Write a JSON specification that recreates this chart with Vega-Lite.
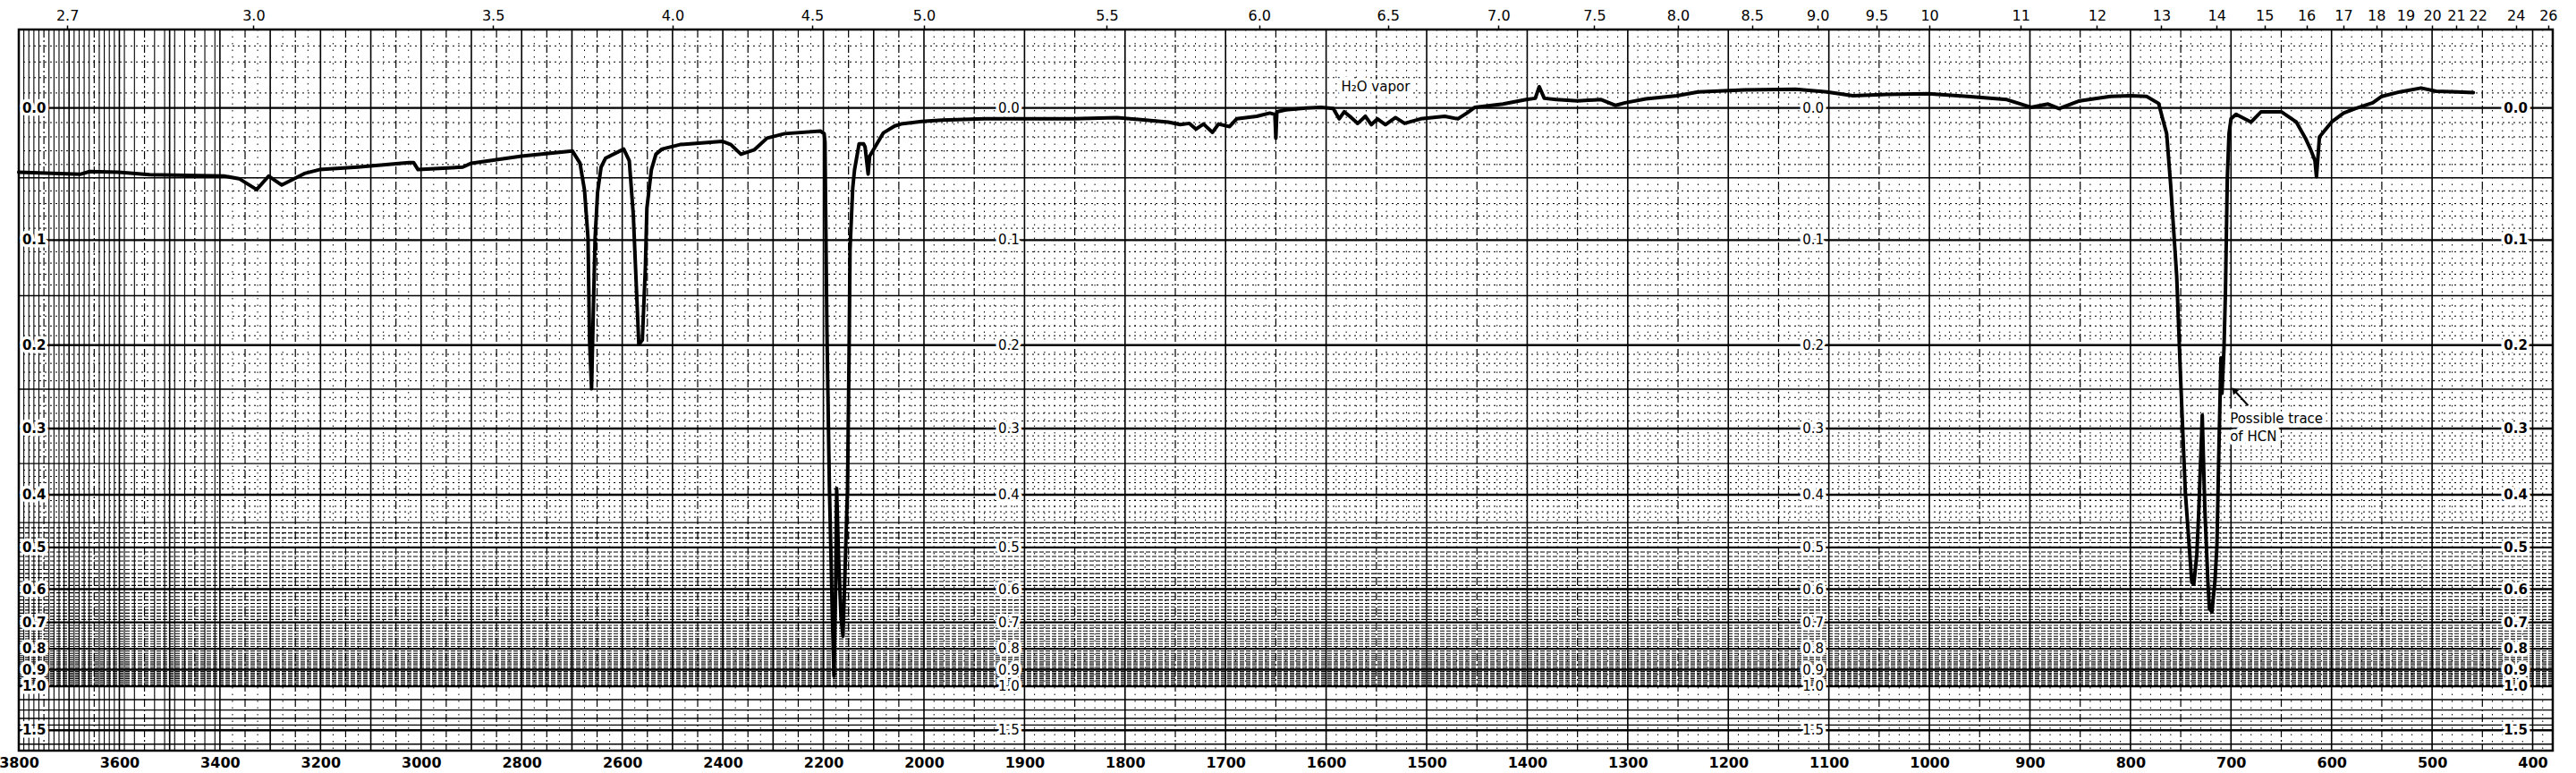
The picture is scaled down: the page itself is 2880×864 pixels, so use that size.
{
  "$schema": "https://vega.github.io/schema/vega-lite/v6.json",
  "width": 2833,
  "height": 806,
  "autosize": {"type": "none"},
  "padding": {"left": 21, "top": 33, "right": 26, "bottom": 25},
  "background": "white",
  "config": {"view": {"stroke": "black", "strokeWidth": 2.5}},
  "resolve": {"axis": {"x": "independent"}},
  "datasets": {
    "trace": [
      {"wn":3800,"T":0.900},{"wn":3677,"T":0.897},{"wn":3659,"T":0.901},{"wn":3601,"T":0.900},{"wn":3540,"T":0.896},
      {"wn":3392,"T":0.894},{"wn":3362,"T":0.890},{"wn":3327,"T":0.873},{"wn":3303,"T":0.894},{"wn":3277,"T":0.880},
      {"wn":3232,"T":0.898},{"wn":3202,"T":0.904},{"wn":3126,"T":0.908},{"wn":3024,"T":0.915},{"wn":3015,"T":0.915},
      {"wn":3006,"T":0.904},{"wn":2917,"T":0.908},{"wn":2900,"T":0.914},{"wn":2800,"T":0.925},{"wn":2699,"T":0.933},
      {"wn":2684,"T":0.914},{"wn":2675,"T":0.872},{"wn":2668,"T":0.797},{"wn":2665,"T":0.639},{"wn":2661,"T":0.563},
      {"wn":2658,"T":0.667},{"wn":2654,"T":0.797},{"wn":2649,"T":0.869},{"wn":2642,"T":0.908},{"wn":2633,"T":0.922},
      {"wn":2597,"T":0.936},{"wn":2586,"T":0.918},{"wn":2578,"T":0.834},{"wn":2572,"T":0.723},{"wn":2567,"T":0.632},
      {"wn":2560,"T":0.639},{"wn":2554,"T":0.751},{"wn":2551,"T":0.844},{"wn":2542,"T":0.904},{"wn":2533,"T":0.928},
      {"wn":2521,"T":0.936},{"wn":2485,"T":0.943},{"wn":2401,"T":0.948},{"wn":2384,"T":0.943},{"wn":2364,"T":0.928},
      {"wn":2337,"T":0.935},{"wn":2312,"T":0.953},{"wn":2277,"T":0.960},{"wn":2206,"T":0.964},{"wn":2198.5,"T":0.960},
      {"wn":2196.8,"T":0.947},{"wn":2195,"T":0.806},{"wn":2193,"T":0.656},{"wn":2188,"T":0.408},{"wn":2182.5,"T":0.221},
      {"wn":2179,"T":0.116},{"wn":2175.4,"T":0.263},{"wn":2173.6,"T":0.408},{"wn":2170,"T":0.305},{"wn":2165,"T":0.208},
      {"wn":2161,"T":0.178},{"wn":2157.6,"T":0.263},{"wn":2152,"T":0.408},{"wn":2149,"T":0.611},{"wn":2147,"T":0.780},
      {"wn":2141.6,"T":0.876},{"wn":2138,"T":0.904},{"wn":2129,"T":0.944},{"wn":2120,"T":0.944},{"wn":2117,"T":0.939},
      {"wn":2111,"T":0.897},{"wn":2108,"T":0.925},{"wn":2099,"T":0.937},{"wn":2081,"T":0.961},{"wn":2058,"T":0.972},
      {"wn":2045.5,"T":0.975},{"wn":2004.6,"T":0.979},{"wn":1982,"T":0.981},{"wn":1940,"T":0.983},{"wn":1903,"T":0.983},
      {"wn":1851,"T":0.983},{"wn":1808,"T":0.985},{"wn":1757,"T":0.978},{"wn":1745,"T":0.974},{"wn":1736,"T":0.976},
      {"wn":1729.5,"T":0.967},{"wn":1722,"T":0.975},{"wn":1713,"T":0.962},{"wn":1707,"T":0.975},{"wn":1696,"T":0.971},
      {"wn":1689,"T":0.983},{"wn":1669,"T":0.987},{"wn":1656,"T":0.992},{"wn":1651,"T":0.990},{"wn":1650,"T":0.953},
      {"wn":1649,"T":0.994},{"wn":1640,"T":0.997},{"wn":1620,"T":1.000},{"wn":1605,"T":1.001},{"wn":1593,"T":0.999},
      {"wn":1587,"T":0.983},{"wn":1582,"T":0.994},{"wn":1575,"T":0.985},{"wn":1568.5,"T":0.976},{"wn":1561,"T":0.987},
      {"wn":1555,"T":0.974},{"wn":1549,"T":0.983},{"wn":1541,"T":0.974},{"wn":1531,"T":0.985},{"wn":1522,"T":0.976},
      {"wn":1506,"T":0.983},{"wn":1482,"T":0.987},{"wn":1469,"T":0.983},{"wn":1459,"T":0.993},{"wn":1452,"T":1.001},
      {"wn":1424,"T":1.006},{"wn":1401,"T":1.013},{"wn":1392,"T":1.015},{"wn":1388,"T":1.033},{"wn":1383,"T":1.015},
      {"wn":1371,"T":1.013},{"wn":1350,"T":1.011},{"wn":1326.5,"T":1.013},{"wn":1312,"T":1.004},{"wn":1302.5,"T":1.008},
      {"wn":1282,"T":1.014},{"wn":1251,"T":1.019},{"wn":1230,"T":1.025},{"wn":1184,"T":1.028},{"wn":1133,"T":1.029},
      {"wn":1102,"T":1.025},{"wn":1076,"T":1.019},{"wn":1042,"T":1.021},{"wn":1001,"T":1.022},{"wn":962,"T":1.018},
      {"wn":923,"T":1.013},{"wn":899,"T":1.001},{"wn":882,"T":1.006},{"wn":871,"T":0.999},{"wn":850.5,"T":1.011},
      {"wn":820,"T":1.018},{"wn":800,"T":1.019},{"wn":784,"T":1.018},{"wn":772,"T":1.007},{"wn":768,"T":0.983},
      {"wn":764,"T":0.960},{"wn":760,"T":0.880},{"wn":754,"T":0.738},{"wn":750,"T":0.574},{"wn":745.5,"T":0.404},
      {"wn":739,"T":0.262},{"wn":737,"T":0.259},{"wn":734,"T":0.305},{"wn":732,"T":0.375},{"wn":728.6,"T":0.522},
      {"wn":726,"T":0.375},{"wn":723,"T":0.263},{"wn":721.5,"T":0.221},{"wn":719,"T":0.216},{"wn":716,"T":0.263},
      {"wn":714,"T":0.318},{"wn":712,"T":0.472},{"wn":710,"T":0.611},{"wn":709,"T":0.556},{"wn":707,"T":0.625},
      {"wn":705.5,"T":0.716},{"wn":703.7,"T":0.890},{"wn":702,"T":0.960},{"wn":700,"T":0.983},{"wn":695,"T":0.990},
      {"wn":680,"T":0.978},{"wn":670,"T":0.994},{"wn":650,"T":0.994},{"wn":635,"T":0.978},{"wn":626,"T":0.953},
      {"wn":621,"T":0.936},{"wn":616.5,"T":0.918},{"wn":615,"T":0.893},{"wn":612,"T":0.955},{"wn":600,"T":0.978},
      {"wn":588,"T":0.992},{"wn":576.5,"T":0.999},{"wn":559,"T":1.008},{"wn":550,"T":1.018},{"wn":532,"T":1.025},
      {"wn":511,"T":1.031},{"wn":496,"T":1.026},{"wn":475,"T":1.025},{"wn":459,"T":1.024}
    ],
    "vmajor": [
      {"wn":3700},{"wn":3600},{"wn":3500},{"wn":3400},{"wn":3300},{"wn":3200},{"wn":3100},{"wn":3000},{"wn":2900},
      {"wn":2800},{"wn":2700},{"wn":2600},{"wn":2500},{"wn":2400},{"wn":2300},{"wn":2200},{"wn":2100},{"wn":2000},
      {"wn":1900},{"wn":1800},{"wn":1700},{"wn":1600},{"wn":1500},{"wn":1400},{"wn":1300},{"wn":1200},{"wn":1100},
      {"wn":1000},{"wn":900},{"wn":800},{"wn":700},{"wn":600},{"wn":500},{"wn":400}
    ],
    "vhalf": [
      {"wn":3750},{"wn":3650},{"wn":3550},{"wn":3450},{"wn":3350},{"wn":3250},{"wn":3150},{"wn":3050},{"wn":2950},
      {"wn":2850},{"wn":2750},{"wn":2650},{"wn":2550},{"wn":2450},{"wn":2350},{"wn":2250},{"wn":2150},{"wn":2050},
      {"wn":1950},{"wn":1850},{"wn":1750},{"wn":1650},{"wn":1550},{"wn":1450},{"wn":1350},{"wn":1250},{"wn":1150},
      {"wn":1050},{"wn":950},{"wn":850},{"wn":750},{"wn":650},{"wn":550},{"wn":450}
    ],
    "vdense": [
      {"wn":3790},{"wn":3780},{"wn":3770},{"wn":3760},{"wn":3740},{"wn":3730},{"wn":3720},{"wn":3710},
      {"wn":3690},{"wn":3680},{"wn":3670},{"wn":3660},{"wn":3640},{"wn":3630},{"wn":3620},{"wn":3610},
      {"wn":3590},{"wn":3570},{"wn":3530},{"wn":3510},{"wn":3490},{"wn":3470},{"wn":3430},{"wn":3410}
    ],
    "vfine": [
      {"wn":3375},{"wn":3325},{"wn":3275},{"wn":3225},{"wn":3175},{"wn":3125},{"wn":3075},{"wn":3025},{"wn":2975},
      {"wn":2925},{"wn":2875},{"wn":2825},{"wn":2775},{"wn":2725},{"wn":2675},{"wn":2625},{"wn":2575},{"wn":2525},
      {"wn":2475},{"wn":2425},{"wn":2375},{"wn":2325},{"wn":2275},{"wn":2225},{"wn":2175},{"wn":2125},{"wn":2075},{"wn":2025},
      {"wn":1990},{"wn":1980},{"wn":1970},{"wn":1960},{"wn":1940},{"wn":1930},{"wn":1920},{"wn":1910},
      {"wn":1890},{"wn":1880},{"wn":1870},{"wn":1860},{"wn":1840},{"wn":1830},{"wn":1820},{"wn":1810},
      {"wn":1790},{"wn":1780},{"wn":1770},{"wn":1760},{"wn":1740},{"wn":1730},{"wn":1720},{"wn":1710},
      {"wn":1690},{"wn":1680},{"wn":1670},{"wn":1660},{"wn":1640},{"wn":1630},{"wn":1620},{"wn":1610},
      {"wn":1590},{"wn":1580},{"wn":1570},{"wn":1560},{"wn":1540},{"wn":1530},{"wn":1520},{"wn":1510},
      {"wn":1490},{"wn":1480},{"wn":1470},{"wn":1460},{"wn":1440},{"wn":1430},{"wn":1420},{"wn":1410},
      {"wn":1390},{"wn":1380},{"wn":1370},{"wn":1360},{"wn":1340},{"wn":1330},{"wn":1320},{"wn":1310},
      {"wn":1290},{"wn":1280},{"wn":1270},{"wn":1260},{"wn":1240},{"wn":1230},{"wn":1220},{"wn":1210},
      {"wn":1190},{"wn":1180},{"wn":1170},{"wn":1160},{"wn":1140},{"wn":1130},{"wn":1120},{"wn":1110},
      {"wn":1090},{"wn":1080},{"wn":1070},{"wn":1060},{"wn":1040},{"wn":1030},{"wn":1020},{"wn":1010},
      {"wn":990},{"wn":980},{"wn":970},{"wn":960},{"wn":940},{"wn":930},{"wn":920},{"wn":910},
      {"wn":890},{"wn":880},{"wn":870},{"wn":860},{"wn":840},{"wn":830},{"wn":820},{"wn":810},
      {"wn":790},{"wn":780},{"wn":770},{"wn":760},{"wn":740},{"wn":730},{"wn":720},{"wn":710},
      {"wn":690},{"wn":680},{"wn":670},{"wn":660},{"wn":640},{"wn":630},{"wn":620},{"wn":610},
      {"wn":590},{"wn":580},{"wn":570},{"wn":560},{"wn":540},{"wn":530},{"wn":520},{"wn":510},
      {"wn":490},{"wn":480},{"wn":470},{"wn":460},{"wn":440},{"wn":430},{"wn":420},{"wn":410},{"wn":390}
    ],
    "hfine": [
      {"T":1.09648},{"T":1.07152},{"T":1.04713},{"T":1.02329},
      {"T":0.97724},{"T":0.95499},{"T":0.93325},{"T":0.91201},
      {"T":0.87096},{"T":0.85114},{"T":0.83176},{"T":0.81283},
      {"T":0.77625},{"T":0.75858},{"T":0.74131},{"T":0.72444},
      {"T":0.69183},{"T":0.67608},{"T":0.66069},{"T":0.64565},
      {"T":0.61660},{"T":0.60256},{"T":0.58884},{"T":0.57544},
      {"T":0.54954},{"T":0.53703},{"T":0.52481},{"T":0.51286},
      {"T":0.48978},{"T":0.47863},{"T":0.46774},{"T":0.45709},
      {"T":0.43652},{"T":0.42658},{"T":0.41687},{"T":0.40738},
      {"T":0.38905},{"T":0.38019},{"T":0.37154},{"T":0.36308}
    ],
    "hdense": [
      {"T":0.34674},{"T":0.33884},{"T":0.33113},{"T":0.32359},
      {"T":0.30903},{"T":0.30200},{"T":0.29512},{"T":0.28840},{"T":0.28184},
      {"T":0.27542},{"T":0.26915},{"T":0.26303},{"T":0.25704},
      {"T":0.24547},{"T":0.23988},{"T":0.23442},{"T":0.22909},{"T":0.22387},
      {"T":0.21878},{"T":0.21380},{"T":0.20893},{"T":0.20417},
      {"T":0.19498},{"T":0.19055},{"T":0.18621},{"T":0.18197},{"T":0.17783},
      {"T":0.17378},{"T":0.16982},{"T":0.16596},{"T":0.16218},
      {"T":0.15488},{"T":0.15136},{"T":0.14791},{"T":0.14454},{"T":0.14125},
      {"T":0.13804},{"T":0.13490},{"T":0.13183},{"T":0.12882},
      {"T":0.12303},{"T":0.12023},{"T":0.11749},{"T":0.11482},{"T":0.11220},
      {"T":0.10965},{"T":0.10715},{"T":0.10471},{"T":0.10233}
    ],
    "hmed": [
      {"T":0.89125},{"T":0.70795},{"T":0.56234},{"T":0.44668},{"T":0.35481},
      {"T":0.07943},{"T":0.06310},{"T":0.05012},{"T":0.03981},{"T":0.01}
    ],
    "alab": [
      {"T":1.0,"A":"0.0"},{"T":0.79433,"A":"0.1"},{"T":0.63096,"A":"0.2"},{"T":0.50119,"A":"0.3"},
      {"T":0.39811,"A":"0.4"},{"T":0.31623,"A":"0.5"},{"T":0.25119,"A":"0.6"},{"T":0.19953,"A":"0.7"},
      {"T":0.15849,"A":"0.8"},{"T":0.12589,"A":"0.9"},{"T":0.1,"A":"1.0"},{"T":0.03162,"A":"1.5"}
    ],
    "notes": [
      {"wn":1585,"T":1.033,"label":"H₂O vapor"},
      {"wn":701,"T":0.517,"label":"Possible trace"},
      {"wn":701,"T":0.489,"label":"of HCN"}
    ],
    "arrow": [
      {"wn":683,"T":0.537,"wn2":697,"T2":0.561}
    ]
  },
  "layer": [
    {
      "data": {"name": "vfine"},
      "mark": {"type": "rule", "color": "black", "strokeWidth": 1, "strokeDash": [1.5, 6]},
      "encoding": {"x": {"field": "wn", "type": "quantitative", "axis": null,
        "scale": {"domain": [3800, 2000, 380], "range": [0, 1012, 2833], "nice": false, "zero": false}}}
    },
    {
      "data": {"name": "vdense"},
      "mark": {"type": "rule", "color": "black", "strokeWidth": 1.1},
      "encoding": {"x": {"field": "wn", "type": "quantitative", "axis": null,
        "scale": {"domain": [3800, 2000, 380], "range": [0, 1012, 2833], "nice": false, "zero": false}}}
    },
    {
      "data": {"name": "vhalf"},
      "mark": {"type": "rule", "color": "black", "strokeWidth": 1.2, "strokeDash": [9, 3, 2, 3]},
      "encoding": {"x": {"field": "wn", "type": "quantitative", "axis": null,
        "scale": {"domain": [3800, 2000, 380], "range": [0, 1012, 2833], "nice": false, "zero": false}}}
    },
    {
      "data": {"name": "hfine"},
      "mark": {"type": "rule", "color": "black", "strokeWidth": 1, "strokeDash": [2, 4]},
      "encoding": {"y": {"field": "T", "type": "quantitative", "axis": null,
        "scale": {"domain": [0, 1.122], "nice": false, "zero": false}}}
    },
    {
      "data": {"name": "hdense"},
      "mark": {"type": "rule", "color": "black", "strokeWidth": 1.1, "strokeDash": [5, 2]},
      "encoding": {"y": {"field": "T", "type": "quantitative", "axis": null,
        "scale": {"domain": [0, 1.122], "nice": false, "zero": false}}}
    },
    {
      "data": {"name": "hmed"},
      "mark": {"type": "rule", "color": "black", "strokeWidth": 1.4},
      "encoding": {"y": {"field": "T", "type": "quantitative", "axis": null,
        "scale": {"domain": [0, 1.122], "nice": false, "zero": false}}}
    },
    {
      "data": {"name": "alab"},
      "mark": {"type": "rule", "color": "black", "strokeWidth": 2.4},
      "encoding": {"y": {"field": "T", "type": "quantitative", "axis": null,
        "scale": {"domain": [0, 1.122], "nice": false, "zero": false}}}
    },
    {
      "data": {"name": "vmajor"},
      "mark": {"type": "rule", "color": "black", "strokeWidth": 1.6},
      "encoding": {"x": {"field": "wn", "type": "quantitative",
        "scale": {"domain": [3800, 2000, 380], "range": [0, 1012, 2833], "nice": false, "zero": false},
        "axis": {"orient": "top", "title": null, "domain": false, "grid": false,
          "values": [3703.7, 3333.33, 2857.14, 2500, 2222.22, 2000, 1818.18, 1666.67, 1538.46, 1428.57, 1333.33, 1250, 1176.47, 1111.11, 1052.63, 1000, 909.09, 833.33, 769.23, 714.29, 666.67, 625, 588.24, 555.56, 526.32, 500, 476.19, 454.55, 416.67, 384.62],
          "labelExpr": "datum.value > 1001 ? format(10000 / datum.value, '.1f') : format(10000 / datum.value, '.0f')",
          "ticks": true, "tickSize": 5, "tickWidth": 1.5, "tickColor": "black",
          "labelPadding": 3, "labelFont": "DejaVu Sans", "labelFontSize": 16, "labelColor": "black",
          "labelFlush": false, "labelOverlap": false}}}
    },
    {
      "data": {"name": "alab"},
      "mark": {"type": "text", "align": "left", "baseline": "middle", "font": "DejaVu Sans", "fontSize": 15, "fontWeight": "bold", "fill": "white", "stroke": "white", "strokeWidth": 7, "strokeJoin": "round"},
      "encoding": {
        "x": {"datum": 3793, "type": "quantitative", "axis": null, "scale": {"domain": [3800, 2000, 380], "range": [0, 1012, 2833], "nice": false, "zero": false}},
        "y": {"field": "T", "type": "quantitative", "axis": null, "scale": {"domain": [0, 1.122], "nice": false, "zero": false}},
        "text": {"field": "A"}}
    },
    {
      "data": {"name": "alab"},
      "mark": {"type": "text", "align": "left", "baseline": "middle", "font": "DejaVu Sans", "fontSize": 15, "fontWeight": "bold", "fill": "black"},
      "encoding": {
        "x": {"datum": 3793, "type": "quantitative", "axis": null, "scale": {"domain": [3800, 2000, 380], "range": [0, 1012, 2833], "nice": false, "zero": false}},
        "y": {"field": "T", "type": "quantitative", "axis": null, "scale": {"domain": [0, 1.122], "nice": false, "zero": false}},
        "text": {"field": "A"}}
    },
    {
      "data": {"name": "alab"},
      "mark": {"type": "text", "align": "right", "baseline": "middle", "font": "DejaVu Sans", "fontSize": 15, "fill": "white", "stroke": "white", "strokeWidth": 7, "strokeJoin": "round"},
      "encoding": {
        "x": {"datum": 1905, "type": "quantitative", "axis": null, "scale": {"domain": [3800, 2000, 380], "range": [0, 1012, 2833], "nice": false, "zero": false}},
        "y": {"field": "T", "type": "quantitative", "axis": null, "scale": {"domain": [0, 1.122], "nice": false, "zero": false}},
        "text": {"field": "A"}}
    },
    {
      "data": {"name": "alab"},
      "mark": {"type": "text", "align": "right", "baseline": "middle", "font": "DejaVu Sans", "fontSize": 15, "fill": "black"},
      "encoding": {
        "x": {"datum": 1905, "type": "quantitative", "axis": null, "scale": {"domain": [3800, 2000, 380], "range": [0, 1012, 2833], "nice": false, "zero": false}},
        "y": {"field": "T", "type": "quantitative", "axis": null, "scale": {"domain": [0, 1.122], "nice": false, "zero": false}},
        "text": {"field": "A"}}
    },
    {
      "data": {"name": "alab"},
      "mark": {"type": "text", "align": "right", "baseline": "middle", "font": "DejaVu Sans", "fontSize": 15, "fill": "white", "stroke": "white", "strokeWidth": 7, "strokeJoin": "round"},
      "encoding": {
        "x": {"datum": 1105, "type": "quantitative", "axis": null, "scale": {"domain": [3800, 2000, 380], "range": [0, 1012, 2833], "nice": false, "zero": false}},
        "y": {"field": "T", "type": "quantitative", "axis": null, "scale": {"domain": [0, 1.122], "nice": false, "zero": false}},
        "text": {"field": "A"}}
    },
    {
      "data": {"name": "alab"},
      "mark": {"type": "text", "align": "right", "baseline": "middle", "font": "DejaVu Sans", "fontSize": 15, "fill": "black"},
      "encoding": {
        "x": {"datum": 1105, "type": "quantitative", "axis": null, "scale": {"domain": [3800, 2000, 380], "range": [0, 1012, 2833], "nice": false, "zero": false}},
        "y": {"field": "T", "type": "quantitative", "axis": null, "scale": {"domain": [0, 1.122], "nice": false, "zero": false}},
        "text": {"field": "A"}}
    },
    {
      "data": {"name": "alab"},
      "mark": {"type": "text", "align": "right", "baseline": "middle", "font": "DejaVu Sans", "fontSize": 15, "fontWeight": "bold", "fill": "white", "stroke": "white", "strokeWidth": 7, "strokeJoin": "round"},
      "encoding": {
        "x": {"datum": 405, "type": "quantitative", "axis": null, "scale": {"domain": [3800, 2000, 380], "range": [0, 1012, 2833], "nice": false, "zero": false}},
        "y": {"field": "T", "type": "quantitative", "axis": null, "scale": {"domain": [0, 1.122], "nice": false, "zero": false}},
        "text": {"field": "A"}}
    },
    {
      "data": {"name": "alab"},
      "mark": {"type": "text", "align": "right", "baseline": "middle", "font": "DejaVu Sans", "fontSize": 15, "fontWeight": "bold", "fill": "black"},
      "encoding": {
        "x": {"datum": 405, "type": "quantitative", "axis": null, "scale": {"domain": [3800, 2000, 380], "range": [0, 1012, 2833], "nice": false, "zero": false}},
        "y": {"field": "T", "type": "quantitative", "axis": null, "scale": {"domain": [0, 1.122], "nice": false, "zero": false}},
        "text": {"field": "A"}}
    },
    {
      "data": {"name": "notes"},
      "mark": {"type": "text", "align": "left", "baseline": "middle", "font": "DejaVu Sans", "fontSize": 15, "fill": "white", "stroke": "white", "strokeWidth": 9, "strokeJoin": "round"},
      "encoding": {
        "x": {"field": "wn", "type": "quantitative", "axis": null, "scale": {"domain": [3800, 2000, 380], "range": [0, 1012, 2833], "nice": false, "zero": false}},
        "y": {"field": "T", "type": "quantitative", "axis": null, "scale": {"domain": [0, 1.122], "nice": false, "zero": false}},
        "text": {"field": "label"}}
    },
    {
      "data": {"name": "trace"},
      "mark": {"type": "line", "color": "black", "strokeWidth": 4, "strokeJoin": "round", "strokeCap": "round"},
      "encoding": {
        "x": {"field": "wn", "type": "quantitative",
          "scale": {"domain": [3800, 2000, 380], "range": [0, 1012, 2833], "nice": false, "zero": false},
          "axis": {"orient": "bottom", "title": null, "domain": false, "grid": false, "ticks": false,
            "values": [3800, 3600, 3400, 3200, 3000, 2800, 2600, 2400, 2200, 2000, 1900, 1800, 1700, 1600, 1500, 1400, 1300, 1200, 1100, 1000, 900, 800, 700, 600, 500, 400],
            "format": "d", "labelPadding": 5, "labelFont": "DejaVu Sans", "labelFontSize": 16, "labelFontWeight": "bold",
            "labelColor": "black", "labelFlush": false, "labelOverlap": false}},
        "y": {"field": "T", "type": "quantitative", "axis": null, "scale": {"domain": [0, 1.122], "nice": false, "zero": false}}
      }
    },
    {
      "data": {"name": "notes"},
      "mark": {"type": "text", "align": "left", "baseline": "middle", "font": "DejaVu Sans", "fontSize": 15, "fill": "black"},
      "encoding": {
        "x": {"field": "wn", "type": "quantitative", "axis": null, "scale": {"domain": [3800, 2000, 380], "range": [0, 1012, 2833], "nice": false, "zero": false}},
        "y": {"field": "T", "type": "quantitative", "axis": null, "scale": {"domain": [0, 1.122], "nice": false, "zero": false}},
        "text": {"field": "label"}}
    },
    {
      "data": {"name": "arrow"},
      "mark": {"type": "rule", "color": "black", "strokeWidth": 2},
      "encoding": {
        "x": {"field": "wn", "type": "quantitative", "axis": null, "scale": {"domain": [3800, 2000, 380], "range": [0, 1012, 2833], "nice": false, "zero": false}},
        "x2": {"field": "wn2"},
        "y": {"field": "T", "type": "quantitative", "axis": null, "scale": {"domain": [0, 1.122], "nice": false, "zero": false}},
        "y2": {"field": "T2"}}
    },
    {
      "data": {"name": "arrow"},
      "mark": {"type": "point", "shape": "triangle-up", "filled": true, "color": "black", "size": 70, "angle": -42, "opacity": 1},
      "encoding": {
        "x": {"field": "wn2", "type": "quantitative", "axis": null, "scale": {"domain": [3800, 2000, 380], "range": [0, 1012, 2833], "nice": false, "zero": false}},
        "y": {"field": "T2", "type": "quantitative", "axis": null, "scale": {"domain": [0, 1.122], "nice": false, "zero": false}}}
    }
  ]
}
